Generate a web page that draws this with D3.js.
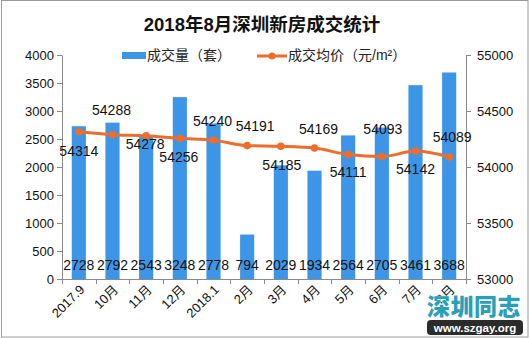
<!DOCTYPE html>
<html>
<head>
<meta charset="utf-8">
<script src="https://cdn.jsdelivr.net/npm/d3@7"></script>
<style>
  html, body { margin: 0; padding: 0; background: #fff; }
  svg { display: block; }
  text { font-family: "Liberation Sans", "Noto Sans CJK SC", sans-serif; }
</style>
</head>
<body>
<svg id="chart" width="529" height="339"></svg>
<script>
// Monthly figures: Sep 2017 – Aug 2018
const months = ["2017.9", "10月", "11月", "12月", "2018.1", "2月", "3月", "4月", "5月", "6月", "7月", "8月"];
const volume = [2728, 2792, 2543, 3248, 2778, 794, 2029, 1934, 2564, 2705, 3461, 3688];
const avgPrice = [54314, 54288, 54278, 54256, 54240, 54191, 54185, 54169, 54111, 54093, 54142, 54089];
const volumeTicks = [0, 500, 1000, 1500, 2000, 2500, 3000, 3500, 4000];
const priceTicks = [53000, 53500, 54000, 54500, 55000];

const titleText = "2018年8月深圳新房成交统计";
const volumeName = "成交量（套）";
const priceName = "成交均价（元/m²）";

const W = 529, H = 339;
const plot = { left: 62, right: 466, top: 55, bottom: 279 };
const barColor = "#3d95e8";
const lineColor = "#ee6d2a";
const axisColor = "#8a8a8a";

const svg = d3.select("#chart");

// outer frame
svg.append("rect")
  .attr("x", 1.5).attr("y", 0.5).attr("width", W - 2.5).attr("height", H - 2.5)
  .attr("fill", "#fff").attr("stroke", "#9a9a9a");

// scales
const x = d3.scaleBand().domain(months).range([plot.left, plot.right]).paddingInner(0.58).paddingOuter(0.29);
const xCenter = d => x(d) + x.bandwidth() / 2;
const yVol = d3.scaleLinear().domain([0, 4000]).range([plot.bottom, plot.top]);
const yPrice = d3.scaleLinear().domain([53000, 55000]).range([plot.bottom, plot.top]);

// title
svg.append("text")
  .attr("x", 262).attr("y", 31)
  .attr("text-anchor", "middle")
  .attr("font-family", "Noto Sans CJK SC").attr("font-weight", "bold")
  .attr("font-size", 18.5).attr("fill", "#111")
  .text(titleText);

// legend
const legend = svg.append("g").attr("font-family", "Noto Sans CJK SC").attr("font-size", 14).attr("fill", "#222");
legend.append("rect").attr("x", 122).attr("y", 52).attr("width", 24).attr("height", 7).attr("fill", barColor);
legend.append("text").attr("x", 147).attr("y", 56).attr("dominant-baseline", "middle").text(volumeName);
legend.append("line").attr("x1", 257).attr("x2", 287).attr("y1", 56).attr("y2", 56)
  .attr("stroke", lineColor).attr("stroke-width", 3);
legend.append("circle").attr("cx", 272).attr("cy", 56).attr("r", 3.5).attr("fill", lineColor);
legend.append("text").attr("x", 288).attr("y", 56).attr("dominant-baseline", "middle").text(priceName);

// bars
svg.append("g").selectAll("rect").data(volume).join("rect")
  .attr("x", (d, i) => x(months[i]))
  .attr("width", x.bandwidth())
  .attr("y", d => yVol(d))
  .attr("height", d => yVol(0) - yVol(d))
  .attr("fill", barColor);

// axes
function styleAxis(g) {
  g.select(".domain").attr("stroke", axisColor);
  g.selectAll(".tick line").attr("stroke", axisColor);
  g.selectAll(".tick text").attr("fill", "#111").attr("font-size", 13)
    .attr("font-family", "Liberation Sans");
}
svg.append("g").attr("transform", `translate(${plot.left},0)`)
  .call(d3.axisLeft(yVol).tickValues(volumeTicks).tickFormat(d3.format("d"))
    .tickSize(5).tickSizeOuter(0).tickPadding(3))
  .call(styleAxis);
svg.append("g").attr("transform", `translate(${plot.right},0)`)
  .call(d3.axisRight(yPrice).tickValues(priceTicks).tickFormat(d3.format("d"))
    .tickSize(5).tickSizeOuter(0).tickPadding(6))
  .call(styleAxis);

// category axis: ticks on band boundaries, labels slanted
const xAxis = svg.append("g");
xAxis.append("line")
  .attr("x1", plot.left).attr("x2", plot.right)
  .attr("y1", plot.bottom + 0.5).attr("y2", plot.bottom + 0.5)
  .attr("stroke", axisColor);
const step = x.step();
d3.range(months.length + 1).forEach(i => {
  const bx = Math.round(plot.left + step * i) + 0.5;
  xAxis.append("line").attr("x1", bx).attr("x2", bx)
    .attr("y1", plot.bottom).attr("y2", plot.bottom + 5).attr("stroke", axisColor);
});
xAxis.selectAll("text.cat").data(months).join("text")
  .attr("class", "cat")
  .attr("transform", d => `translate(${xCenter(d) + 4},${plot.bottom + 9}) rotate(-45)`)
  .attr("text-anchor", "end")
  .attr("dominant-baseline", "middle")
  .attr("font-size", 13).attr("fill", "#111")
  .attr("font-family", "Liberation Serif, Noto Sans CJK SC")
  .text(d => d);

// volume labels along the bottom of each bar
svg.append("g").selectAll("text").data(volume).join("text")
  .attr("x", (d, i) => xCenter(months[i]))
  .attr("y", 270)
  .attr("text-anchor", "middle")
  .attr("font-size", 14).attr("fill", "#111")
  .text(d => d);

// average price line
const pts = avgPrice.map((v, i) => [xCenter(months[i]), yPrice(v)]);
svg.append("path")
  .attr("d", d3.line().curve(d3.curveMonotoneX)(pts))
  .attr("fill", "none").attr("stroke", lineColor).attr("stroke-width", 3);
svg.append("g").selectAll("circle").data(pts).join("circle")
  .attr("cx", d => d[0]).attr("cy", d => d[1]).attr("r", 3.8).attr("fill", lineColor);

// price labels, placed around each point
const labelShift = [[0, 20], [-1, -23], [-1, 9], [-1, 20], [-1, -18], [8, -18],
                    [1, 20], [4, -18], [0, 19], [1, -26], [0, 19], [3, -19]];
svg.append("g").selectAll("text").data(avgPrice).join("text")
  .attr("x", (d, i) => pts[i][0] + labelShift[i][0])
  .attr("y", (d, i) => pts[i][1] + labelShift[i][1])
  .attr("text-anchor", "middle")
  .attr("dominant-baseline", "middle")
  .attr("font-size", 14).attr("fill", "#111")
  .text(d => d);

// site badge, lower right
const badge = svg.append("g");
badge.append("text")
  .attr("x", 474).attr("y", 315)
  .attr("text-anchor", "middle")
  .attr("font-family", "Noto Sans CJK SC").attr("font-weight", "900")
  .attr("font-size", 23).attr("fill", "#2a9fb8")
  .attr("stroke", "#fff").attr("stroke-width", 1).attr("paint-order", "stroke")
  .attr("letter-spacing", 0.5)
  .text("深圳同志");
badge.append("rect").attr("x", 427).attr("y", 320).attr("width", 96).attr("height", 15)
  .attr("rx", 4).attr("fill", "#2b2b2b");
badge.append("text")
  .attr("x", 475).attr("y", 331.5)
  .attr("text-anchor", "middle")
  .attr("font-family", "DejaVu Sans").attr("font-weight", "bold")
  .attr("font-size", 11.5).attr("fill", "#fff")
  .text("www.szgay.org");
</script>
</body>
</html>
